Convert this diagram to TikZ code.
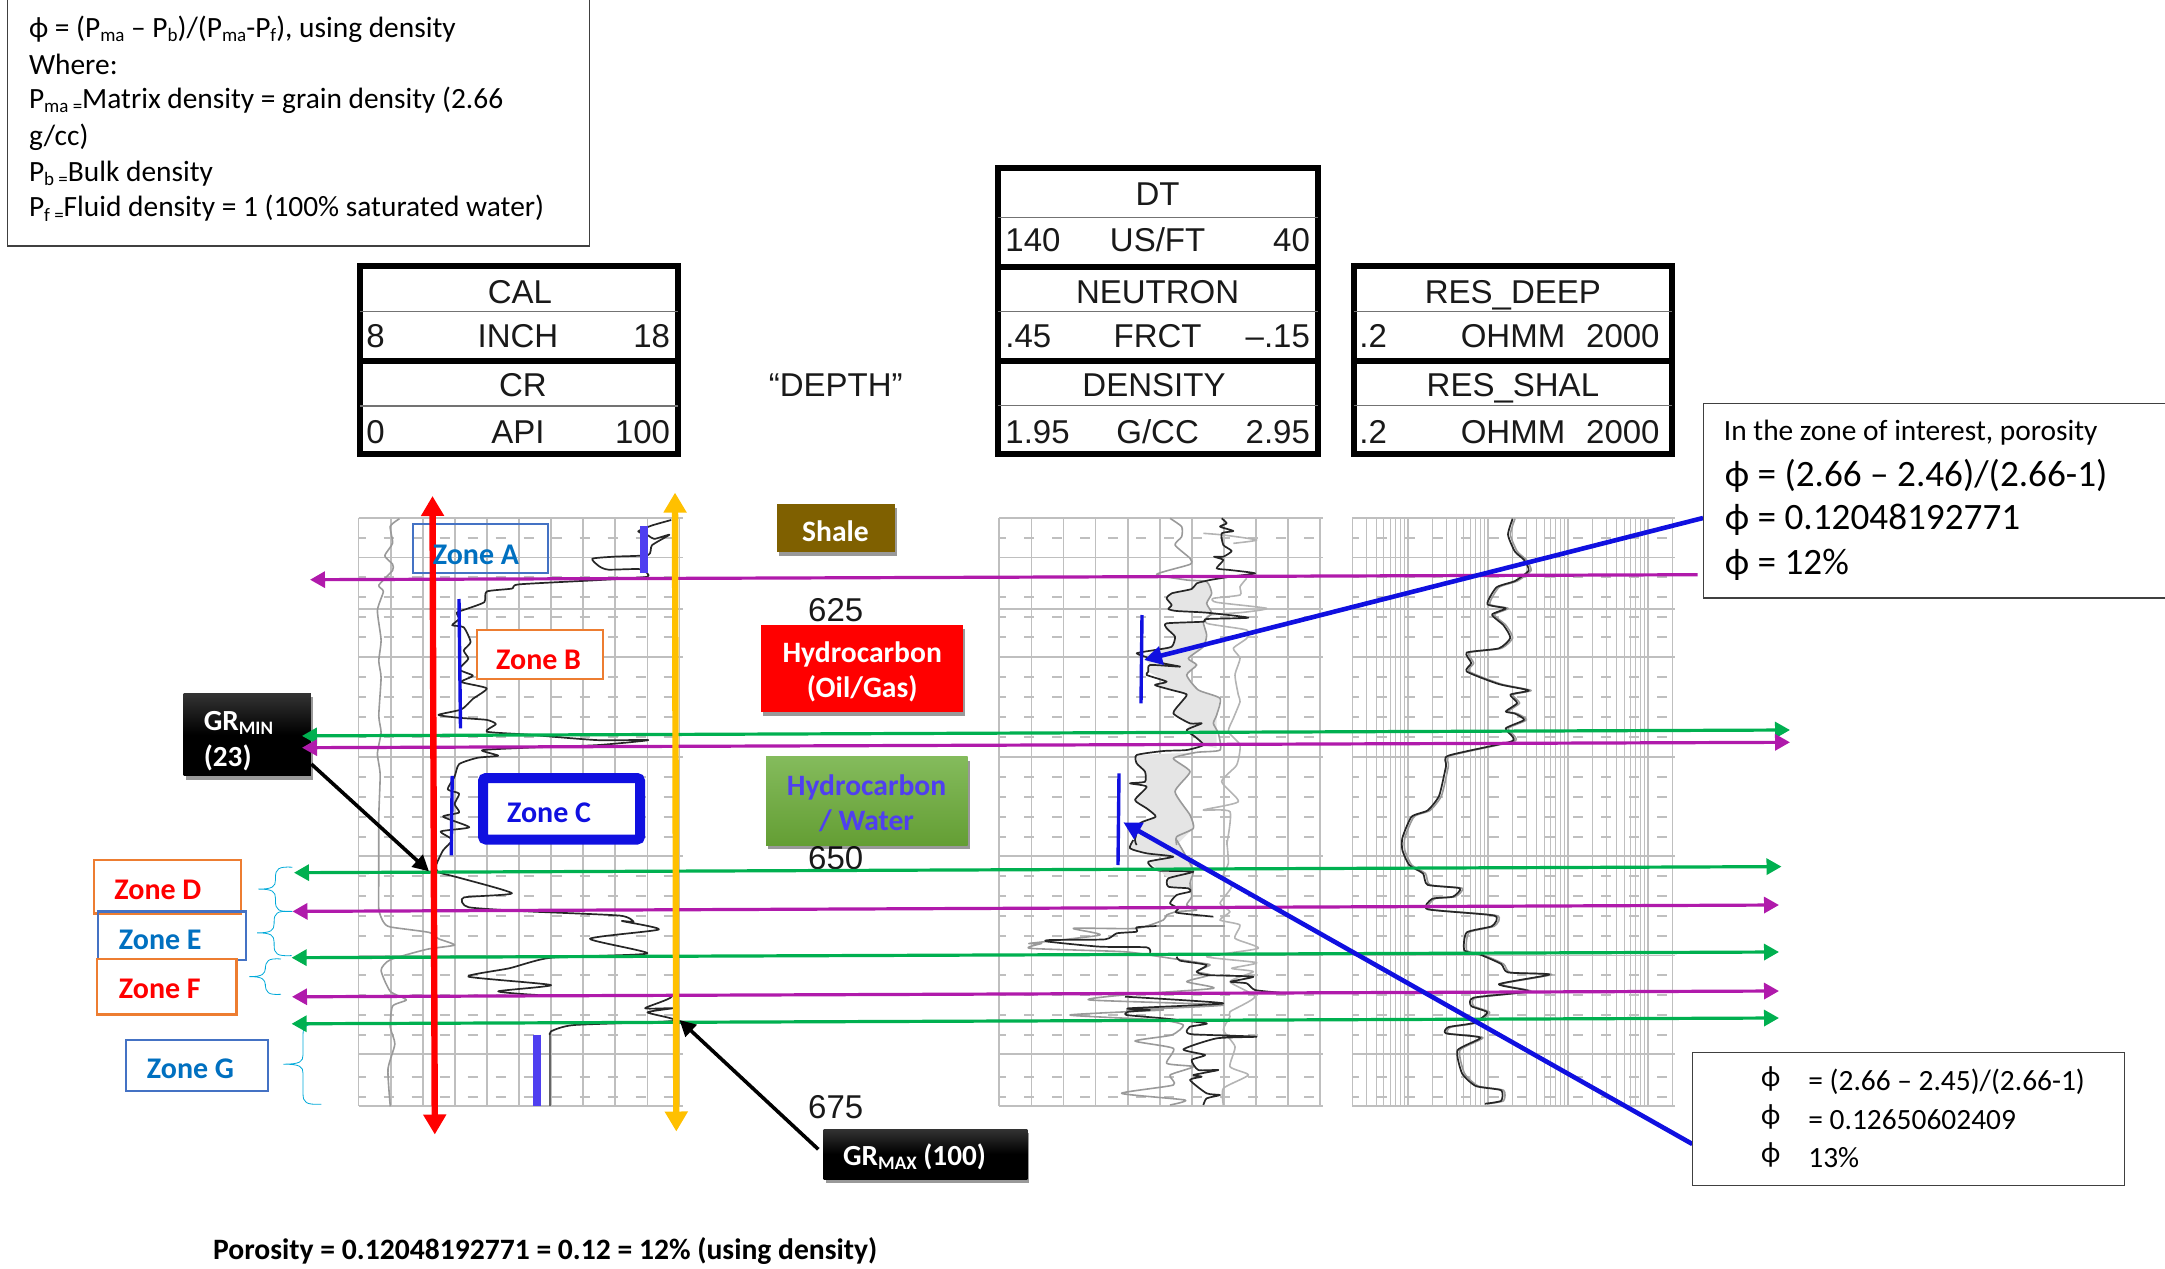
\documentclass[tikz,border=0pt]{standalone}
\usepackage{fontspec}
\setmainfont{Carlito}
\newfontfamily\arial{Liberation Sans}
\usetikzlibrary{arrows.meta,shadows}
\definecolor{magl}{HTML}{B01AAB}
\definecolor{grnl}{HTML}{00B050}
\definecolor{gridc}{HTML}{BFBFBF}
\definecolor{zblue}{HTML}{0070C0}
\definecolor{bblue}{HTML}{4472C4}
\definecolor{zorange}{HTML}{ED7D31}
\definecolor{deepb}{HTML}{1010E0}
\definecolor{violetb}{HTML}{4F3FF0}
\definecolor{curveg}{HTML}{9A9A9A}
\definecolor{curvel}{HTML}{B4B4B4}
\newcommand\sbx[1]{\raisebox{-0.3ex}{\fontsize{9.5}{10}\selectfont #1}}
\newcommand\ssbx[1]{\raisebox{-0.3ex}{\fontsize{9.5}{12}\selectfont #1}}
\newcommand\mkbox[8]{% name, x1,y1,x2,y2, style, text
  \pgfmathsetmacro\bw{(#4-#2)*0.5}\pgfmathsetmacro\bh{(#5-#3)*0.5}
  \pgfmathsetmacro\bx{(#2+#4)/2}\pgfmathsetmacro\by{(#3+#5)/2}
  \node[rectangle,inner sep=0pt,outer sep=0pt,minimum width=\bw pt,minimum height=\bh pt,#6] (#1) at (\bx,\by) {#7};}
\newcommand\zbrace[6]{% tipx spine right top tipy bottom
  \draw[bracel] (#3,#4) .. controls (#2+6,#4-2) and (#2,#4+4) .. (#2,#4+25)
    -- (#2,#5-22) .. controls (#2,#5-6) and (#2-6,#5) .. (#1,#5)
    .. controls (#2-6,#5) and (#2,#5+6) .. (#2,#5+22)
    -- (#2,#6-25) .. controls (#2,#6-4) and (#2+6,#6+2) .. (#3,#6);}
\newcommand\trackh[2]{% x0 x1
  \foreach \yy in {517.7,557.4,609,656.7,756.7,856,955.6,1054,1105.7}
    \draw[gridl] (#1,\yy) -- (#2+3,\yy);
  \foreach \yy in {537.7,576.7,596.7,616.7,636.7,676.7,696.7,716.7,736.7,776.7,796.7,816.7,836.7,876,896,916,936,975,995,1015,1035,1077,1097}
    \draw[gridl,dash pattern=on 5pt off 9pt,dash phase=1.5pt] (#1,\yy) -- (#2,\yy);}
\newcommand\trackv[1]{%
  \foreach \k in {0,...,10}
    \draw[gridl] ({#1+32.09*\k},517.7) -- ({#1+32.09*\k},1105.7);}
\tikzset{
  gridl/.style={draw=gridc,line width=0.85pt},
  zA/.style={shift={(0,480)},x=0.22957pt,y=-0.21044pt},
  zB/.style={shift={(980,480)},x=0.22957pt,y=-0.21044pt},
  zC/.style={shift={(990,515)},x=0.16667pt,y=-0.16667pt},
  zD/.style={shift={(990,840)},x=0.16667pt,y=-0.16667pt},
  blk/.style={draw=black!85,line width=0.85pt,line join=round,smooth,tension=0.35},
  gry/.style={draw=curveg,line width=0.8pt,line join=round,smooth,tension=0.35},
  lgt/.style={draw=curvel,line width=0.8pt,line join=round,smooth,tension=0.35},
  bracel/.style={draw=zblue!60!cyan,line width=0.4pt},
  magline/.style={draw=magl,line width=1.6pt},
  grnline/.style={draw=grnl,line width=1.6pt},
  lt/.style={-{Triangle[length=7.5pt,width=8pt]}},
  bt/.style={{Triangle[length=7.5pt,width=8pt]}-{Triangle[length=7.5pt,width=8pt]}},
  bigbt/.style={{Triangle[length=10pt,width=11pt]}-{Triangle[length=10pt,width=11pt]},line width=3.2pt},
  blueptr/.style={draw=deepb,line width=2.3pt,-{Triangle[length=9pt,width=9pt]}},
  blkptr/.style={draw=black,line width=1.8pt,-{Triangle[length=8pt,width=8pt]}},
  tickbar/.style={draw=deepb,line width=1.7pt},
  vbar/.style={draw=violetb,line width=4pt},
  hdr/.style={draw=black,line width=3pt,fill=white},
  hsep/.style={draw=black!55,line width=0.7pt},
  hthick/.style={draw=black,line width=3pt},
  ar/.style={font=\arial\fontsize{16.5}{18}\selectfont,text=black!90,inner sep=0pt,text height=11.8pt,text depth=0pt},
  zonetx/.style={font=\fontsize{15}{18}\selectfont\bfseries,inner sep=0pt},
  form/.style={font=\fontsize{14.7}{18}\selectfont,anchor=west,inner sep=0pt},
  thinbox/.style={draw=black!75,line width=0.7pt,fill=white},
  lbl/.style={font=\fontsize{14.8}{17.5}\selectfont\bfseries,text=white,align=center,inner sep=0pt},
  grtx/.style={anchor=west,inner sep=0pt,font=\fontsize{14.6}{18}\selectfont\bfseries,text=white},
  shad/.style={drop shadow={shadow xshift=1pt,shadow yshift=-2pt,opacity=.4,fill=black}},
  blackgr/.style={top color=black!80,bottom color=black,middle color=black,draw=none,shad},
  big/.style={font=\fontsize{18.6}{21}\selectfont},
}
\begin{document}
\begin{tikzpicture}[x=0.5pt,y=-0.5pt]
\useasboundingbox (0,0) rectangle (2165,1269);
% ---------- log tracks
\trackh{358.6}{679.5}\trackv{358.6}
\trackh{999.3}{1320}\trackv{999.3}
\trackh{1352}{1672.4}
\foreach \v in {0.2,0.3,0.4,0.5,0.6,0.7,0.8,0.9,2,3,4,5,6,7,8,9,20,30,40,50,60,70,80,90,200,300,400,500,600,700,800,900,2000}{
  \pgfmathsetmacro\xx{1352+80.1*log10(\v/0.2)}
  \draw[draw=gridc,line width=0.5pt] (\xx,517.7) -- (\xx,1105.7);}
\foreach \v in {1,10,100,1000}{
  \pgfmathsetmacro\xx{1352+80.1*log10(\v/0.2)}
  \draw[draw=gridc,line width=1pt] (\xx,517.7) -- (\xx,1105.7);}
% ---------- track 1 curves
\begin{scope}[zA]
\draw[gry] plot coordinates {(870,92)(850,110)(855,150)(838,180)(855,200)(855,215)(825,250)(835,265)(822,310)(830,380)(825,430)(830,470)(825,560)(830,600)(822,650)(828,700)(825,800)(825,940)(825,1020)(835,1050)(850,1062)(935,1075)(955,1090)(990,1105)(930,1115)(850,1140)(830,1165)(850,1215)(885,1235)(855,1250)(850,1300)(860,1340)(845,1400)(850,1488)};
\draw[draw=black!60,line width=0.8pt] (1198,1320) -- (1198,1488);
\draw[blk] plot coordinates {(1462,95)(1420,108)(1390,122)(1412,132)(1425,140)(1458,130)(1420,155)(1412,178)(1340,182)(1290,187)(1305,205)(1325,213)(1395,212)(1410,230)(1300,238)(1130,248)(1115,258)(1060,265)(1055,290)(1020,305)(995,315)(1000,330)(985,345)(1010,350)(1025,385)(1010,405)(1020,425)(1000,450)(1030,465)(1005,480)(1060,495)(1030,520)(1005,545)(955,558)(1000,565)(1060,570)(1080,580)(1060,598)(1150,605)(1300,618)(1412,618)(1300,630)(1150,636)(1050,642)(1085,655)(1040,660)(1000,675)(990,705)(975,735)(1000,745)(990,770)(1000,790)(965,800)(1022,825)(960,835)(985,855)(965,880)(950,915)(955,932)(1000,945)(1115,982)(1010,992)(1020,1015)(1150,1025)(1350,1035)(1380,1050)(1355,1048)(1435,1068)(1285,1090)(1410,1125)(1200,1135)(1110,1160)(1020,1180)(1200,1200)(1085,1215)(1200,1225)(1460,1225)(1405,1255)(1465,1255)(1410,1265)(1470,1285)(1250,1295)(1200,1310)(1198,1320)};
\end{scope}
% ---------- track 2 fills and curves
\begin{scope}[zC]
\fill[black!10] plot coordinates {(620,205)(605,222)(545,235)(530,250)(545,270)(535,282)(560,288)(650,293)(665,295)(650,265)(665,235)(650,200)} -- cycle;
\fill[black!10] plot coordinates {(530,325)(530,340)(555,365)(545,395)(495,405)(460,425)(480,450)(475,470)(530,500)(495,510)(590,538)(550,595)(600,625)(590,645)(640,690)(680,700)(680,600)(690,550)(625,525)(590,480)(620,450)(595,430)(640,395)(650,360)(640,320)} -- cycle;
\fill[black!10] plot coordinates {(440,720)(440,745)(465,770)(465,800)(470,815)(435,855)(497,905)(450,925)(435,990)(560,990)(610,940)(600,900)(555,830)(600,770)(550,730)(620,712)} -- cycle;
\end{scope}
\begin{scope}[zD]
\fill[black!10] plot coordinates {(430,0)(420,25)(470,40)(550,50)(475,65)(510,92)(535,115)(535,140)(595,145)(600,155)(610,95)(600,70)(560,0)} -- cycle;
\end{scope}
\begin{scope}[zC]
\draw[lgt] plot coordinates {(640,55)(700,60)(800,75)(730,85)};
\draw[lgt] plot coordinates {(770,190)(750,215)(750,240)(670,250)(680,262)(830,280)(760,292)(660,300)(650,325)(770,345)(770,370)(730,400)(750,430)(735,480)(745,540)(750,560)(730,610)(715,650)(750,690)(740,750)(695,800)(745,860)(640,885)(720,890)(710,990)};
\draw[gry] plot coordinates {(540,10)(575,35)(575,65)(555,90)(600,130)(600,148)(500,178)(590,195)(650,200)(665,235)(650,265)(665,295)(640,320)(650,360)(640,395)(595,430)(620,450)(590,480)(625,525)(690,550)(680,600)(670,625)(685,655)(690,705)(620,712)(550,730)(600,770)(555,830)(600,900)(610,940)(560,965)(560,990)};
\draw[blk] plot coordinates {(695,10)(710,25)(690,35)(730,48)(695,55)(700,90)(725,108)(700,125)(672,125)(700,135)(680,160)(720,165)(795,175)(720,185)(660,195)(620,205)(605,222)(545,235)(530,250)(545,270)(535,282)(560,288)(650,293)(775,308)(650,312)(640,320)(530,325)(530,340)(555,365)(545,395)(495,405)(440,415)(480,430)(520,445)(570,455)(480,450)(475,470)(470,480)(530,500)(495,510)(545,525)(590,538)(575,560)(550,595)(600,625)(635,625)(590,645)(615,665)(640,690)(590,705)(520,708)(440,720)(440,745)(465,770)(465,800)(420,805)(470,815)(435,855)(470,880)(497,905)(450,925)(435,975)(440,990)};
\end{scope}
\begin{scope}[zD]
\draw[lgt] plot coordinates {(710,0)(715,70)(700,105)(725,140)(690,190)(720,215)(690,240)(750,255)(735,295)(805,325)(650,350)(800,368)(725,385)(790,395)(720,425)(795,470)(720,515)(720,530)(700,570)(735,620)(720,680)(775,705)(700,745)(700,795)};
\draw[gry] plot coordinates {(560,0)(600,70)(610,95)(600,130)(605,170)(590,195)(620,210)(560,215)(530,225)(520,240)(440,265)(250,265)(330,285)(120,310)(155,310)(120,325)(400,335)(510,350)(640,370)(660,375)(620,395)(660,405)(590,425)(670,445)(400,465)(300,480)(700,495)(410,510)(520,510)(240,525)(510,540)(580,555)(545,585)(435,603)(550,625)(530,670)(610,680)(540,705)(550,735)(395,760)(585,780)(540,795)};
\draw[draw=curveg,line width=0.8pt] (500,258) -- (705,258);
\draw[blk] plot coordinates {(430,0)(420,25)(470,40)(550,50)(475,65)(490,85)(510,92)(610,95)(535,115)(535,140)(595,145)(600,155)(560,165)(540,190)(565,205)(560,218)(670,230)};
\draw[blk] plot coordinates {(500,258)(440,262)(440,275)(380,280)(345,298)(180,300)(175,305)(330,320)(470,322)(480,338)};
\draw[blk] plot coordinates {(560,350)(570,362)(650,375)(620,395)(650,405)(790,410)(722,425)(770,430)(795,450)(870,458)};
\draw[blk] plot coordinates {(405,470)(700,490)(415,505)(480,510)(415,515)(410,525)(520,535)(650,550)(600,560)(590,575)(610,583)(800,590)(680,595)(580,628)(645,645)(605,660)(625,690)(685,690)(610,705)(635,710)(600,720)(650,760)(690,765)(650,775)(640,795)};
\end{scope}
% ---------- track 3 curves
\begin{scope}[zB]
\def\reslog{(1160,92)(1150,130)(1165,170)(1185,190)(1195,215)(1165,240)(1125,255)(1105,295)(1145,305)(1115,320)(1140,345)(1155,375)(1130,400)(1060,410)(1070,435)(1060,455)(1130,485)(1195,500)(1155,510)(1170,530)(1145,550)(1165,555)(1185,570)(1145,590)(1160,610)(1155,622)(1020,655)(1015,680)(1000,750)(975,785)(940,800)(920,850)(920,880)(935,915)(965,935)(975,962)(1045,970)(1030,990)(985,995)(975,1020)(1120,1035)(1115,1060)(1060,1075)(1055,1118)(1090,1128)(1135,1150)(1150,1170)(1240,1175)(1130,1198)(1195,1215)(1075,1230)(1070,1250)(1105,1265)(1075,1290)(1020,1300)(1015,1315)(1090,1325)(1040,1355)(1050,1410)(1080,1440)(1135,1450)(1135,1475)(1100,1482)}
\begin{scope}[xshift=1.2pt]
\draw[gry] plot coordinates {\reslog};
\end{scope}
\draw[blk] plot coordinates {\reslog};
\end{scope}
% ---------- tables
\draw[hdr] (360,266) rectangle (678,453.5);
\draw[hthick] (360,361) -- (678,361);
\draw[hsep] (360,311.7) -- (678,311.7);
\draw[hsep] (360,406) -- (678,406);
\node[ar] (cal) at (520,292) {CAL};
\node[ar,anchor=west] (cal8) at (366,336) {8};
\node[ar] (calu) at (518,336) {INCH};
\node[ar,anchor=east] (cal18) at (670.5,336) {18};
\node[ar] (cr) at (523,385) {CR};
\node[ar,anchor=west] (cr0) at (366,431.7) {0};
\node[ar] (cru) at (518,431.7) {API};
\node[ar,anchor=east] (cr100) at (670.5,431.7) {100};
\draw[hdr] (998,168) rectangle (1317.5,453.5);
\draw[hthick] (998,266.7) -- (1317.5,266.7);
\draw[hthick] (998,361) -- (1317.5,361);
\draw[hsep] (998,217.7) -- (1317.5,217.7);
\draw[hsep] (998,311.7) -- (1317.5,311.7);
\draw[hsep] (998,405.7) -- (1317.5,405.7);
\node[ar] (dt) at (1157.6,194) {DT};
\node[ar,anchor=west] (dta) at (1005,240) {140};
\node[ar] (dtu) at (1157.6,240) {US/FT};
\node[ar,anchor=east] (dtb) at (1310.3,240) {40};
\node[ar] (neu) at (1157.6,291.7) {NEUTRON};
\node[ar,anchor=west] (neua) at (1005,336) {.45};
\node[ar] (neuu) at (1157.6,336) {FRCT};
\node[ar,anchor=east] (neub) at (1310.3,336) {–.15};
\node[ar] (den) at (1154,385) {DENSITY};
\node[ar,anchor=west] (dena) at (1005,431.7) {1.95};
\node[ar] (denu) at (1157.6,431.7) {G/CC};
\node[ar,anchor=east] (denb) at (1310.3,431.7) {2.95};
\draw[hdr] (1353.5,266) rectangle (1672,453.5);
\draw[hthick] (1353.5,361) -- (1672,361);
\draw[hsep] (1353.5,311.7) -- (1672,311.7);
\draw[hsep] (1353.5,405.7) -- (1672,405.7);
\node[ar] (rd) at (1512.9,291.7) {RES\_DEEP};
\node[ar,anchor=west] (rda) at (1359,336) {.2};
\node[ar] (rdu) at (1513,336) {OHMM};
\node[ar,anchor=east] (rdb) at (1660,336) {2000};
\node[ar] (rs) at (1512.9,385) {RES\_SHAL};
\node[ar,anchor=west] (rsa) at (1359,431.7) {.2};
\node[ar] (rsu) at (1513,431.7) {OHMM};
\node[ar,anchor=east] (rsb) at (1660,431.7) {2000};
\node[ar] (depth) at (835.7,385) {“DEPTH”};
\node[ar] (d625) at (835.7,610) {625};
\node[ar] (d650) at (835.7,857.3) {650};
\node[ar] (d675) at (835.7,1106.7) {675};
% ---------- coloured labels
\mkbox{shale}{776.7}{504}{895}{552.3}{fill={rgb,255:red,127;green,96;blue,0},shad}{}{}
\node[lbl] (shalet) at (835.5,531) {Shale};
\mkbox{hc}{761}{625}{963}{711.7}{fill=red,shad}{}{}
\node[lbl] (hct) at (862.2,671.5) {Hydrocarbon\\(Oil/Gas)};
\mkbox{hw}{766}{756.7}{967.7}{845}{top color={rgb,255:red,132;green,187;blue,92},bottom color={rgb,255:red,100;green,158;blue,52},shad}{}{}
\node[lbl,text=violetb] (hwt) at (866.5,803) {Hydrocarbon\\/ Water};
\mkbox{grmax}{823.7}{1129}{1027.3}{1179}{blackgr}{}{}
\node[grtx] (grmaxt) at (842.7,1156.7) {GR\ssbx{MAX} (100)};
\mkbox{grmin}{183.7}{693.4}{310.8}{775.5}{blackgr}{}{}
\node[grtx] (grmint) at (203.4,723) {GR\ssbx{MIN}};
\node[grtx] (grminu) at (203.4,758) {(23)};
% ---------- zone boxes
\mkbox{zb}{476.6}{629.8}{602.8}{679}{draw=zorange,fill=white,line width=1pt}{}{}
\mkbox{zc}{483}{778}{640}{839.5}{draw=deepb,fill=white,line width=5pt,rounded corners=1.5pt}{}{}
\mkbox{zd}{94}{860}{241}{913.5}{draw=zorange,fill=white,line width=1.2pt}{}{}
\mkbox{ze}{97.8}{911.4}{246}{959.8}{draw=bblue,line width=1.2pt}{}{}
\mkbox{zf}{97}{959}{236.5}{1014.5}{draw=zorange,fill=white,line width=1.2pt}{}{}
\mkbox{zg}{125.8}{1040}{267.7}{1090.7}{draw=bblue,fill=white,line width=1.2pt}{}{}
\mkbox{za}{413}{524}{547.7}{573.4}{draw=bblue,line width=1pt}{}{}
% ---------- braces
\begin{scope}[zA]
\zbrace{563}{600}{637}{920}{972}{1025}
\zbrace{560}{597}{635}{1025}{1076}{1130}
\zbrace{543}{578}{612}{1138}{1180}{1222}
\zbrace{617}{660}{700}{1293}{1388}{1483}
\end{scope}
% ---------- bars
\coordinate (b1a) at (459,599); \coordinate (b1b) at (460.5,728.3);
\coordinate (b2a) at (452.2,775.9); \coordinate (b2b) at (451.3,855.4);
\coordinate (b3a) at (1142,615); \coordinate (b3b) at (1141,703.3);
\coordinate (b4a) at (1119,773.3); \coordinate (b4b) at (1118,865);
\coordinate (v1a) at (643.7,525.5); \coordinate (v1b) at (643.7,573.4);
\coordinate (v2a) at (537.2,1034.7); \coordinate (v2b) at (537.2,1106);
\draw[tickbar] (b1a) -- (b1b);
\draw[tickbar] (b2a) -- (b2b);
\draw[tickbar] (b3a) -- (b3b);
\draw[tickbar] (b4a) -- (b4b);
\draw[vbar] (v1a) -- (v1b);
\draw[vbar] (v2a) -- (v2b);
% ---------- horizontal markers
\coordinate (m1r) at (1697.6,574.7); \coordinate (m1l) at (310,579.7);
\coordinate (g2r) at (1790,730);   \coordinate (g2l) at (302,735.9);
\coordinate (m3r) at (1790,742.3); \coordinate (m3l) at (302,747.7);
\coordinate (g4r) at (1781.5,866.6); \coordinate (g4l) at (294,872.7);
\coordinate (m5r) at (1779,905);   \coordinate (m5l) at (292.5,911.4);
\coordinate (g6r) at (1779,952);   \coordinate (g6l) at (291.6,957.7);
\coordinate (m7r) at (1779,991);   \coordinate (m7l) at (292,996.8);
\coordinate (g8r) at (1779,1018);  \coordinate (g8l) at (291.6,1023.8);
\draw[magline,lt] (m1r) -- (m1l);
\draw[grnline,bt] (g2l) -- (g2r);
\draw[magline,bt] (m3l) -- (m3r);
\draw[grnline,bt] (g4l) -- (g4r);
\draw[magline,bt] (m5l) -- (m5r);
\draw[grnline,bt] (g6l) -- (g6r);
\draw[magline,bt] (m7l) -- (m7r);
\draw[grnline,bt] (g8l) -- (g8r);
% ---------- GR limits
\coordinate (rt) at (432.5,496); \coordinate (rb) at (434.8,1134.5);
\coordinate (yt) at (675,492.6); \coordinate (yb) at (676.3,1131.5);
\draw[bigbt,draw=red,color=red] (rt) -- (rb);
\draw[bigbt,draw={rgb,255:red,255;green,192;blue,0},color={rgb,255:red,255;green,192;blue,0}] (yt) -- (yb);
% ---------- pointers
\coordinate (minfrom) at (311.3,764); \coordinate (minto) at (429,871.4);
\coordinate (maxfrom) at (818.3,1149.3); \coordinate (maxto) at (679.5,1020);
\draw[blkptr] (minfrom) -- (minto);
\draw[blkptr] (maxfrom) -- (maxto);
\coordinate (bp1a) at (1703,518); \coordinate (bp1b) at (1144,660);
\coordinate (bp2a) at (1692.3,1144); \coordinate (bp2b) at (1123.3,822.3);
\draw[blueptr] (bp1a) -- (bp1b);
\draw[blueptr] (bp2a) -- (bp2b);
% ---------- zone texts
\node[zonetx,text=zblue] (zat) at (476,554.5) {Zone A};
\node[zonetx,text=red] (zbt) at (538.6,660) {Zone B};
\node[zonetx,text=deepb] (zct) at (549,812.5) {Zone C};
\node[zonetx,text=red,anchor=west] (zdt) at (114,889.5) {Zone D};
\node[zonetx,text=zblue,anchor=west] (zet) at (118.5,939.6) {Zone E};
\node[zonetx,text=red,anchor=west] (zft) at (118.5,988.4) {Zone F};
\node[zonetx,text=zblue,anchor=west] (zgt) at (146.5,1069.2) {Zone G};
% ---------- formula box
\mkbox{fbox}{7.3}{-3}{589.5}{246}{thinbox}{}{}
\node[form] (f1) at (28.6,29.5) {ϕ = (P\sbx{ma} – P\sbx{b})/(P\sbx{ma}-P\sbx{f}), using density};
\node[form] (f2) at (28.6,64) {Where:};
\node[form] (f3) at (28.6,100.5) {P\sbx{ma =}Matrix density = grain density (2.66};
\node[form] (f4) at (28.6,137) {g/cc)};
\node[form] (f5) at (28.6,173.5) {P\sbx{b =}Bulk density};
\node[form] (f6) at (28.6,208.5) {P\sbx{f =}Fluid density = 1 (100\% saturated water)};
% ---------- right boxes
\mkbox{rbox}{1703.4}{403.3}{2170}{598}{thinbox}{}{}
\node[form] (r1) at (1723.5,433) {In the zone of interest, porosity};
\node[form,big] (r2) at (1724.5,475.5) {ϕ = (2.66 – 2.46)/(2.66-1)};
\node[form,big] (r3) at (1724.5,519.5) {ϕ = 0.12048192771};
\node[form,big] (r4) at (1724.5,565) {ϕ = 12\%};
\mkbox{sbox}{1692.3}{1052.3}{2124.3}{1185.7}{thinbox}{}{}
\node[form,anchor=center] (s1p) at (1770.7,1079) {ϕ};
\node[form] (s1) at (1808,1081.7) {= (2.66 – 2.45)/(2.66-1)};
\node[form,anchor=center] (s2p) at (1770.7,1117) {ϕ};
\node[form] (s2) at (1808,1120) {= 0.12650602409};
\node[form,anchor=center] (s3p) at (1770.7,1155) {ϕ};
\node[form] (s3) at (1808,1158) {13\%};
\node[form,font=\fontsize{14.8}{18}\selectfont\bfseries] (pty) at (212.7,1251) {Porosity = 0.12048192771 = 0.12 = 12\% (using density)};
\end{tikzpicture}
\end{document}
